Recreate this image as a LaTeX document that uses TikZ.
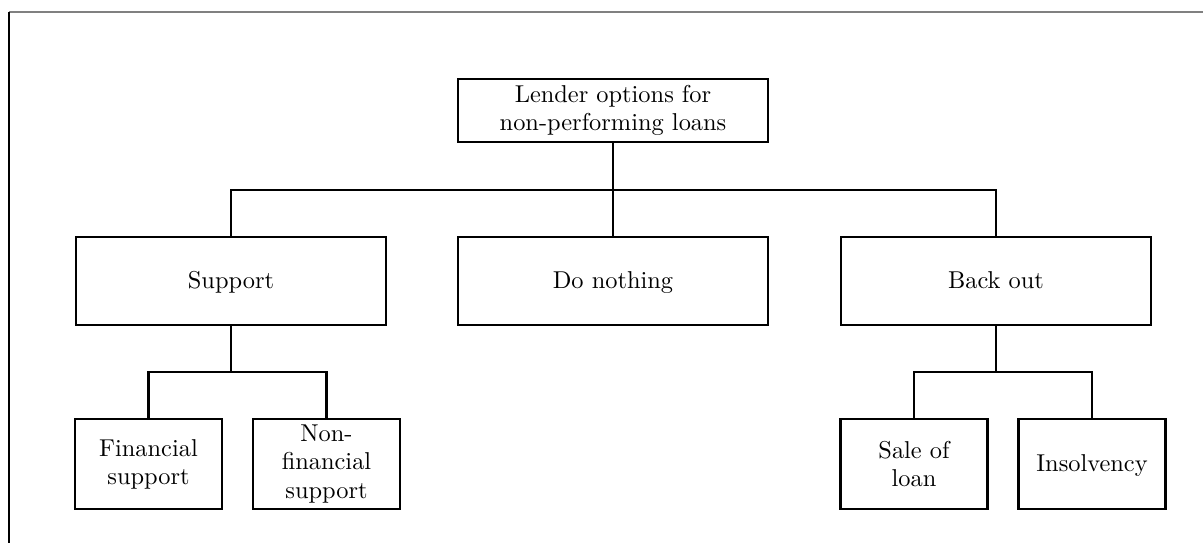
\documentclass[tikz,border=0pt]{standalone}
\begin{document}
\begin{tikzpicture}[x=0.41pt,y=-0.41pt,
  box/.style={draw,line width=1.2pt,rectangle,inner sep=0pt,align=center,
    font=\fontsize{10}{11.5}\selectfont},
  oneline/.style={text height=1.6ex,text depth=0.25ex},
  topbox/.style={box,minimum width=310*0.41pt,minimum height=63*0.41pt},
  midbox/.style={box,oneline,minimum width=310*0.41pt,minimum height=88*0.41pt},
  leafbox/.style={box,minimum width=147*0.41pt,minimum height=90*0.41pt},
  link/.style={line width=1.2pt}]
% page area and frame
\useasboundingbox (0,0) rectangle (1203,543);
\draw[gray,line width=0.6pt] (9,12) -- (1203,12);
\draw[line width=0.6pt] (9,12) -- (9,543);

% boxes
\node[topbox] (root) at (613,110.5) {Lender options for\\non-performing loans};
\node[midbox] (support) at (231,281) {Support};
\node[midbox] (nothing) at (613,281) {Do nothing};
\node[midbox] (backout) at (996,281) {Back out};
\node[leafbox] (fin) at (148.5,464) {Financial\\support};
\node[leafbox] (nonfin) at (326.5,464) {Non-\\financial\\support};
\node[leafbox] (sale) at (914,464) {Sale of\\loan};
\node[leafbox,oneline] (insol) at (1092,464) {Insolvency};

% bus levels
\coordinate (busA) at (0,190);
\coordinate (busB) at (0,372);

% connectors
\draw[link] (root.south) -- (root.south |- busA) -- (nothing.north);
\draw[link] (support.north) |- (root.south |- busA) -| (backout.north);
\draw[link] (support.south) -- (support.south |- busB);
\draw[link] (fin.north) |- (support.south |- busB) -| (nonfin.north);
\draw[link] (backout.south) -- (backout.south |- busB);
\draw[link] (sale.north) |- (backout.south |- busB) -| (insol.north);
\end{tikzpicture}
\end{document}
